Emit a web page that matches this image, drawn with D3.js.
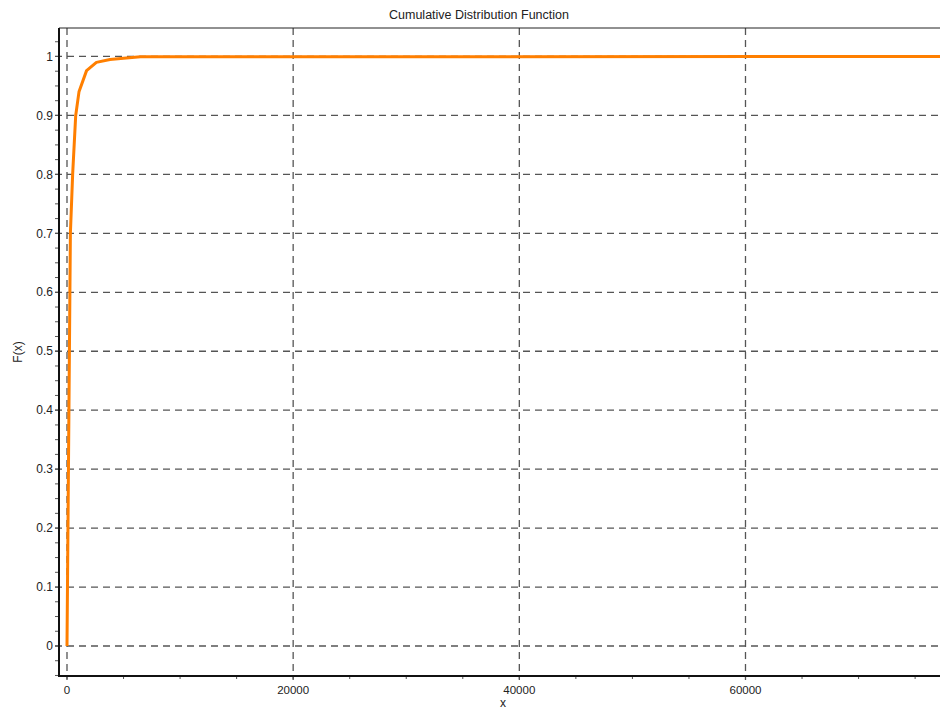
<!DOCTYPE html>
<html><head><meta charset="utf-8">
<script src="https://cdn.jsdelivr.net/npm/d3@7"></script>
<style>body{margin:0;background:#fff}svg{display:block}text{font-family:"Liberation Sans",Arial,sans-serif}</style>
</head><body><svg id="c" width="940" height="708"></svg>
<script>
const title = "Cumulative Distribution Function";
const xLabel = "x";
const yLabel = "F(x)";
const xValues = [0, 300, 500, 770, 1060, 1730, 2600, 3800, 5000, 6500, 77200];
const fValues = [0, 0.70, 0.80, 0.90, 0.94, 0.976, 0.99, 0.995, 0.997, 0.9995, 1.0];
const xTicks = [0, 20000, 40000, 60000];
const xMinorStep = 5000;
const yTicks = [0, 0.1, 0.2, 0.3, 0.4, 0.5, 0.6, 0.7, 0.8, 0.9, 1];
const yMinorStep = 0.025;
const xDomain = [-707, 77200];
const yDomain = [-0.0509, 1.0483];

const svg = d3.select("#c");
const L = 59, R = 940, T = 28, B = 676;
const x = d3.scaleLinear().domain(xDomain).range([L, R]);
const y = d3.scaleLinear().domain(yDomain).range([B, T]);
const gridColor = "#555";

// grid
const g = svg.append("g");
g.selectAll(".hg").data(yTicks).join("line")
  .attr("x1", L - 4).attr("x2", R).attr("y1", d => y(d)).attr("y2", d => y(d))
  .attr("stroke", gridColor).attr("stroke-width", 1.3).attr("stroke-dasharray", "7,5");
g.selectAll(".vg").data(xTicks).join("line")
  .attr("x1", d => x(d)).attr("x2", d => x(d)).attr("y1", T).attr("y2", B + 4)
  .attr("stroke", gridColor).attr("stroke-width", 1.3).attr("stroke-dasharray", "7,5");

// minor ticks
const yMinor = d3.range(-0.05, 1.05 + 1e-9, yMinorStep).filter(v => v >= yDomain[0] && v <= yDomain[1]);
svg.append("g").selectAll("line").data(yMinor).join("line")
  .attr("x1", L - 4).attr("x2", L).attr("y1", d => y(d)).attr("y2", d => y(d))
  .attr("stroke", "#555").attr("stroke-width", 1);
const xMinor = d3.range(0, xDomain[1], xMinorStep);
svg.append("g").selectAll("line").data(xMinor).join("line")
  .attr("x1", d => x(d)).attr("x2", d => x(d)).attr("y1", B).attr("y2", B + 3)
  .attr("stroke", "#555").attr("stroke-width", 1);

// axes lines
svg.append("line").attr("x1", L).attr("x2", L).attr("y1", T).attr("y2", B + 1)
  .attr("stroke", "#111").attr("stroke-width", 2);
svg.append("line").attr("x1", L).attr("x2", R).attr("y1", B).attr("y2", B)
  .attr("stroke", "#111").attr("stroke-width", 2);
svg.append("line").attr("x1", L).attr("x2", R).attr("y1", T).attr("y2", T)
  .attr("stroke", "#222").attr("stroke-width", 1);

// tick labels
svg.append("g").selectAll("text").data(yTicks).join("text")
  .attr("x", L - 6).attr("y", d => y(d)).attr("dy", "0.35em")
  .attr("text-anchor", "end").attr("font-size", 12).attr("fill", "#222")
  .text(d => d3.format("")(d));
svg.append("g").selectAll("text").data(xTicks).join("text")
  .attr("x", d => x(d)).attr("y", B + 18)
  .attr("text-anchor", "middle").attr("font-size", 11.5).attr("fill", "#222")
  .text(d => d);

// labels
svg.append("text").attr("x", 479).attr("y", 19).attr("text-anchor", "middle")
  .attr("font-size", 12.5).attr("fill", "#222").text(title);
svg.append("text").attr("x", 503).attr("y", 706.5).attr("text-anchor", "middle")
  .attr("font-size", 12).attr("fill", "#222").text(xLabel);
svg.append("text").attr("transform", "translate(22,352) rotate(-90)").attr("text-anchor", "middle")
  .attr("font-size", 12).attr("fill", "#222").text(yLabel);

// curve
const pts = xValues.map((v, i) => [v, fValues[i]]);
svg.append("path").datum(pts)
  .attr("d", d3.line().x(d => x(d[0])).y(d => y(d[1])))
  .attr("fill", "none").attr("stroke", "#ff7f00").attr("stroke-width", 3)
  .attr("stroke-linejoin", "round");
</script></body></html>
